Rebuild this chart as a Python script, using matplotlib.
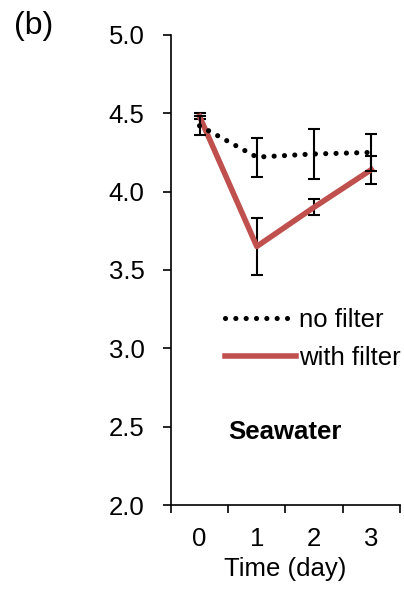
import matplotlib
matplotlib.use('Agg')
from matplotlib import pyplot as plt

plt.rcParams['font.family'] = ['Liberation Sans', 'DejaVu Sans']

# data
days = [0, 1, 2, 3]
no_filter = [4.42, 4.22, 4.24, 4.25]
no_filter_err = [0.06, 0.125, 0.16, 0.12]
with_filter = [4.48, 3.65, 3.90, 4.14]
with_filter_err = [0.02, 0.18, 0.05, 0.09]
yticks = [2.0, 2.5, 3.0, 3.5, 4.0, 4.5, 5.0]

fs = 18.5

fig = plt.figure(figsize=(4.04, 5.91), dpi=100)
ax = fig.add_axes([0.423, 0.1455, 0.567, 0.7955])

red = '#C0504D'
nf = ax.errorbar(days, no_filter, yerr=no_filter_err, color='black',
                 linestyle=(0, (0.01, 2.0)), linewidth=3.7, ecolor='black',
                 elinewidth=1.5, capsize=4, capthick=1.5, label='no filter', zorder=3)
nf[0].set_dash_capstyle('round')
wf = ax.errorbar(days, with_filter, yerr=with_filter_err, color=red, linewidth=4.0,
                 ecolor='black', elinewidth=1.5, capsize=4, capthick=1.5,
                 label='with filter', zorder=2)

ax.set_xlim(-0.5, 3.5)
ax.set_ylim(2.0, 5.0)
ax.set_yticks(yticks)
ax.set_yticklabels(['%.1f' % v for v in yticks])
ax.set_xticks([-0.5, 0.5, 1.5, 2.5, 3.5])
ax.set_xticklabels([])
ax.set_xticks(days, minor=True)
ax.set_xticklabels([str(d) for d in days], minor=True)
ax.tick_params(axis='x', which='major', direction='out', length=6, width=1.2)
ax.tick_params(axis='x', which='minor', length=0, pad=16, labelsize=fs)
ax.tick_params(axis='y', direction='out', length=6, width=1.2, labelsize=fs, pad=13)

for s in ['top', 'right']:
    ax.spines[s].set_visible(False)
for s in ['left', 'bottom']:
    ax.spines[s].set_linewidth(1.2)

ax.set_xlabel('Time (day)', fontsize=fs, labelpad=4)

h, l = ax.get_legend_handles_labels()
h = [x[0] for x in h]
ax.legend(h, l, frameon=False, fontsize=fs, handlelength=2.75, handletextpad=0.15,
          loc='center left', bbox_to_anchor=(0.236, 0.353), labelspacing=0.55,
          borderpad=0, borderaxespad=0)

ax.text(0.25, 0.155, 'Seawater', transform=ax.transAxes, fontsize=fs,
        fontweight='bold', va='center', ha='left')
fig.text(0.035, 0.956, '(b)', fontsize=23, va='center', ha='left')

fig.savefig('out.png', dpi=100)
